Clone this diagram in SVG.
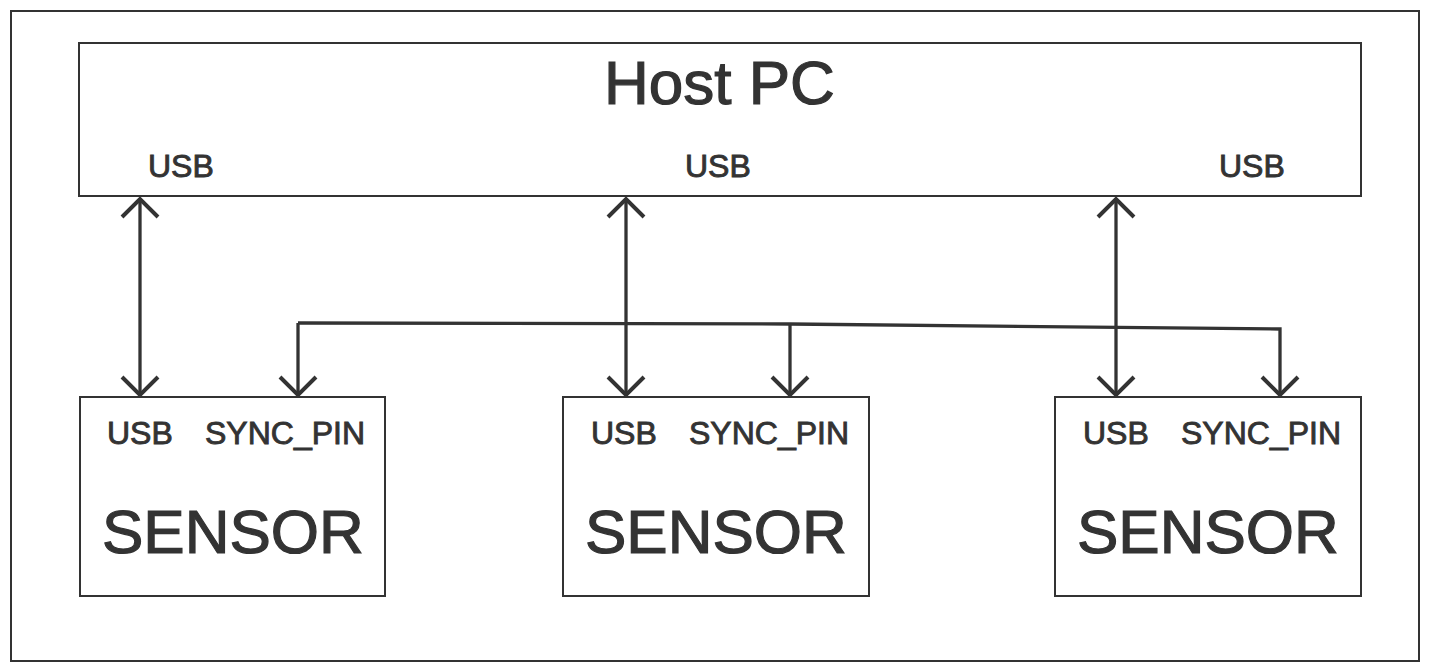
<svg xmlns="http://www.w3.org/2000/svg" width="1430" height="672" viewBox="0 0 1430 672">
<defs>
<marker id="chev" viewBox="0 0 24 40" refX="21" refY="20" markerWidth="24" markerHeight="40" markerUnits="userSpaceOnUse" orient="auto-start-reverse">
<path d="M3,2 L21,20 L3,38" fill="none" stroke="#333" stroke-width="4"/>
</marker>
</defs>
<style>
.box{fill:#fff;stroke:#333;stroke-width:2}
.line{fill:none;stroke:#333;stroke-width:3.3}
text{font-family:"Liberation Sans",Arial,sans-serif;fill:#333;stroke:#333}
.big{font-size:62px;stroke-width:1.2}
.lbl{font-size:32px;stroke-width:0.9}
.sens{font-size:62px;stroke-width:1.2}
</style>
<rect x="11" y="11" width="1408" height="650" fill="#fff" stroke="#333" stroke-width="2"/>
<g id="host">
<rect class="box" x="79" y="43" width="1282" height="153"/>
<text class="big" x="604" y="104">Host PC</text>
<text class="lbl" x="148" y="177">USB</text>
<text class="lbl" x="685" y="177">USB</text>
<text class="lbl" x="1219" y="177">USB</text>
</g>
<g id="sensor1">
<rect class="box" x="80" y="397" width="305" height="199"/>
<text class="lbl" x="107" y="444">USB</text>
<text class="lbl" x="205" y="444">SYNC_PIN</text>
<text class="sens" x="102" y="553">SENSOR</text>
</g>
<g id="sensor2">
<rect class="box" x="563" y="397" width="306" height="199"/>
<text class="lbl" x="591" y="444">USB</text>
<text class="lbl" x="689" y="444">SYNC_PIN</text>
<text class="sens" x="585" y="553">SENSOR</text>
</g>
<g id="sensor3">
<rect class="box" x="1055" y="397" width="306" height="199"/>
<text class="lbl" x="1083" y="444">USB</text>
<text class="lbl" x="1181" y="444">SYNC_PIN</text>
<text class="sens" x="1077" y="553">SENSOR</text>
</g>
<g id="connectors">
<line class="line" x1="140" y1="199" x2="140" y2="395" marker-start="url(#chev)" marker-end="url(#chev)"/>
<line class="line" x1="626" y1="199" x2="626" y2="395" marker-start="url(#chev)" marker-end="url(#chev)"/>
<line class="line" x1="1116" y1="199" x2="1116" y2="395" marker-start="url(#chev)" marker-end="url(#chev)"/>
<path class="line" d="M298,323 L790,324 L1280,329 L1280,395" marker-end="url(#chev)"/>
<path class="line" d="M790,324 L790,395" marker-end="url(#chev)"/>
<path class="line" d="M298,323 L298,395" marker-end="url(#chev)"/>
</g>
</svg>
